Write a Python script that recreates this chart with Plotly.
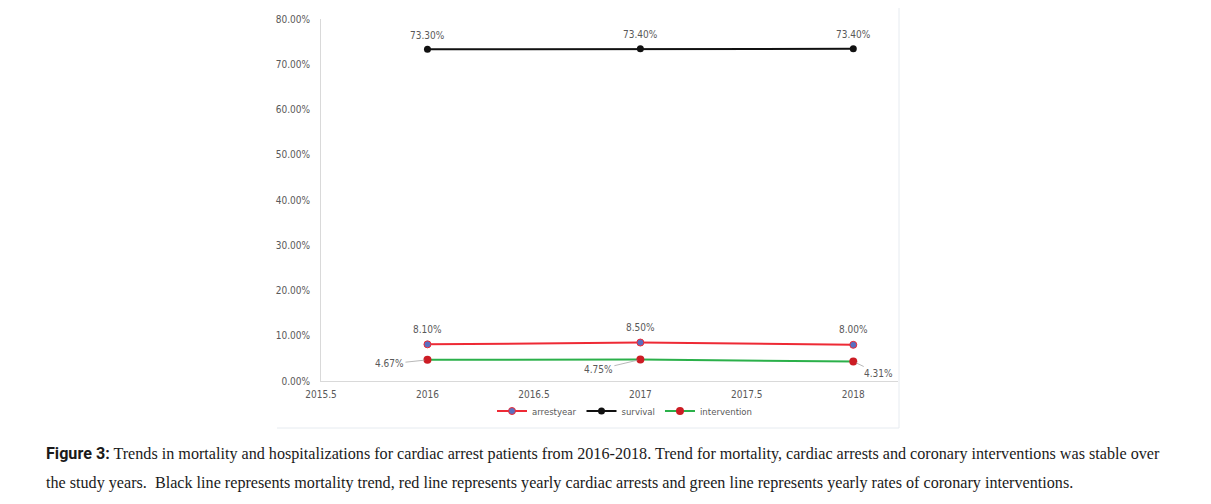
import plotly.graph_objects as go

# Trends for cardiac arrest patients, 2016-2018
years = [2016, 2017, 2018]
arrestyear = [0.081, 0.085, 0.080]
survival = [0.733, 0.734, 0.734]
intervention = [0.0467, 0.0475, 0.0431]

y_ticks = [0, 0.1, 0.2, 0.3, 0.4, 0.5, 0.6, 0.7, 0.8]

# page body has an 8px margin, so the figure starts at (8, 8) in the window
OFF = 8
W, H = 1211 - OFF, 504 - OFF
L, R, T, B = 321, 898, 19, 381   # plot area in window pixels


def px(x):
    return (x - L) / (R - L)


def py(y):
    return (B - y) / (B - T)


label_font = dict(family="DejaVu Sans Condensed, Liberation Sans Narrow, Arial", size=10, color="#595959")

fig = go.Figure()
fig.add_trace(go.Scatter(
    x=years, y=arrestyear, name="arrestyear", mode="lines+markers",
    line=dict(color="#ee2a35", width=2),
    marker=dict(color="#5b6fc0", size=7, line=dict(color="#ee2a35", width=1)),
))
fig.add_trace(go.Scatter(
    x=years, y=survival, name="survival", mode="lines+markers",
    line=dict(color="#111111", width=2),
    marker=dict(color="#111111", size=7),
))
fig.add_trace(go.Scatter(
    x=years, y=intervention, name="intervention", mode="lines+markers",
    line=dict(color="#2bb04a", width=2),
    marker=dict(color="#cc1c24", size=8),
))

# data labels above the points
for series, shift in [(arrestyear, 15), (survival, 14)]:
    for x, y in zip(years, series):
        fig.add_annotation(x=x, y=y, text=f"{y:.2%}", showarrow=False,
                           yshift=shift, font=label_font)

# intervention labels with leader lines
offsets = [(-38, 4), (-42, 10), (25, 12)]
for x, y, (ax, ay) in zip(years, intervention, offsets):
    fig.add_annotation(
        x=x, y=y, text=f"{y:.2%}", showarrow=True, arrowhead=0,
        arrowwidth=0.8, arrowcolor="#a6a6a6", ax=ax, ay=ay,
        standoff=3, font=label_font,
    )

# chart frame (faint)
fig.add_shape(type="line", xref="paper", yref="paper", x0=px(899), x1=px(899),
              y0=py(8), y1=py(428), line=dict(color="#e6ebf0", width=1))
fig.add_shape(type="line", xref="paper", yref="paper", x0=px(277), x1=px(899),
              y0=py(428), y1=py(428), line=dict(color="#e6ebf0", width=1))

cap_font = dict(family="Liberation Serif, Times New Roman, serif", size=16.15, color="#1a1a1a")
fig.add_annotation(
    xref="paper", yref="paper", x=px(44), y=py(453), xanchor="left", yanchor="middle",
    showarrow=False, font=cap_font,
    text="<span style='font-family:Roboto'><b>Figure 3:</b></span> Trends in mortality and "
         "hospitalizations for cardiac arrest patients from 2016-2018. Trend for mortality, "
         "cardiac arrests and coronary interventions was stable over",
)
fig.add_annotation(
    xref="paper", yref="paper", x=px(44), y=py(483), xanchor="left", yanchor="middle",
    showarrow=False, font=cap_font,
    text="the study years.  Black line represents mortality trend, red line represents yearly "
         "cardiac arrests and green line represents yearly rates of coronary interventions.",
)

fig.update_layout(
    width=W, height=H,
    margin=dict(l=L - OFF, r=W - (R - OFF), t=T - OFF, b=H - (B - OFF)),
    plot_bgcolor="white", paper_bgcolor="white",
    font=dict(family="DejaVu Sans Condensed, Liberation Sans Narrow, Arial", size=10, color="#595959"),
    showlegend=True,
    legend=dict(orientation="h", x=px(625), xanchor="center", y=py(411), yanchor="middle",
                bgcolor="rgba(0,0,0,0)", font=dict(size=9.5, color="#595959"),
                itemwidth=30, tracegroupgap=0),
    xaxis=dict(range=[2015.5, 2018.21], tick0=2015.5, dtick=0.5, tickformat=".1~f",
               showgrid=False, zeroline=False, showline=True, linecolor="#d9d9d9",
               linewidth=1, ticks="", ticklabelstandoff=4, automargin=False),
    yaxis=dict(range=[0, 0.8], tickvals=y_ticks, tickformat=".2%", showgrid=False,
               zeroline=False, showline=True, linecolor="#d9d9d9", linewidth=1,
               ticks="", ticklabelstandoff=8, automargin=False),
)

fig.write_html("out.html")
